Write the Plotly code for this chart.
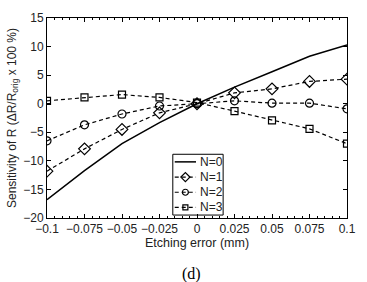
import plotly.graph_objects as go

x_err = [-0.1, -0.075, -0.05, -0.025, 0, 0.025, 0.05, 0.075, 0.1]
n0 = [-16.8, -11.7, -7.0, -3.3, 0.0, 2.9, 5.6, 8.3, 10.3]
n1 = [-11.8, -7.9, -4.5, -1.6, 0.0, 1.9, 2.6, 3.9, 4.3]
n2 = [-6.5, -3.7, -1.8, -0.4, 0.0, 0.5, 0.1, 0.1, -0.9]
n3 = [0.5, 1.1, 1.6, 1.1, 0.2, -1.3, -2.9, -4.4, -7.0]
names = ["N=0", "N=1", "N=2", "N=3"]

xtick_vals = [-0.1, -0.075, -0.05, -0.025, 0, 0.025, 0.05, 0.075, 0.1]
xtick_text = ["\u22120.1", "\u22120.075", "\u22120.05", "\u22120.025", "0", "0.025", "0.05", "0.075", "0.1"]
ytick_vals = [-20, -15, -10, -5, 0, 5, 10, 15]
ytick_text = ["\u221220", "\u221215", "\u221210", "\u22125", "0", "5", "10", "15"]

font = "Liberation Sans, Arial, sans-serif"
DASH = "4px,3px"
styles = [
    dict(mode="lines", line=dict(color="black", width=1.5), marker=None),
    dict(mode="lines+markers", line=dict(color="black", width=1.2, dash=DASH),
         marker=dict(symbol="diamond-open", size=9, color="black", line=dict(width=1.2))),
    dict(mode="lines+markers", line=dict(color="black", width=1.2, dash=DASH),
         marker=dict(symbol="circle-open", size=8, color="black", line=dict(width=1.2))),
    dict(mode="lines+markers", line=dict(color="black", width=1.2, dash=DASH),
         marker=dict(symbol="square-open", size=7, color="black", line=dict(width=1.2))),
]
series = [n0, n1, n2, n3]

fig = go.Figure()
for nm, ys, st in zip(names, series, styles):
    kw = dict(x=x_err, y=ys, mode=st["mode"], name=nm, line=st["line"], showlegend=False)
    if st["marker"] is not None:
        kw["marker"] = st["marker"]
    fig.add_trace(go.Scatter(**kw))

# custom compact legend (drawn on an overlay axis in pixel units of the plot area)
L_left, L_right, L_top, L_bot = 176, 228, 153, 215
row_h = (L_bot - L_top) / len(names)
annos = []
for i, (nm, st) in enumerate(zip(names, styles)):
    yc = L_top + row_h * (i + 0.5)
    fig.add_trace(go.Scatter(x=[178, 200], y=[yc, yc], mode="lines", line=st["line"],
                             xaxis="x2", yaxis="y2", showlegend=False, hoverinfo="skip"))
    if st["marker"] is not None:
        m = dict(st["marker"])
        m["size"] = m["size"] - 2
        fig.add_trace(go.Scatter(x=[189], y=[yc], mode="markers", marker=m,
                                 xaxis="x2", yaxis="y2", showlegend=False, hoverinfo="skip"))
    annos.append(dict(text=nm, x=202, y=yc, xref="x2", yref="y2", xanchor="left", yanchor="middle",
                      showarrow=False, font=dict(size=12, family=font, color="#222")))

annos.append(dict(text="(d)", x=0.48, y=-0.279, xref="paper", yref="paper", yanchor="middle",
                  showarrow=False, font=dict(family="Liberation Serif, Times New Roman, serif", size=16, color="black")))

fig.update_layout(
    width=367, height=282,
    margin=dict(l=46, r=11, t=14, b=64),
    paper_bgcolor="white", plot_bgcolor="white",
    font=dict(family=font, size=12, color="#222"),
    showlegend=False,
    xaxis=dict(range=[-0.1, 0.1], tickvals=xtick_vals, ticktext=xtick_text,
               showline=True, linecolor="black", linewidth=1, mirror="ticks",
               ticks="inside", ticklen=4, tickcolor="black", showgrid=False, zeroline=False,
               minor=dict(dtick=0.005, ticks="inside", ticklen=2, tickcolor="black", showgrid=False),
               title=dict(text="Etching error (mm)", font=dict(size=12.5), standoff=2),
               tickfont=dict(size=12)),
    yaxis=dict(range=[-20, 15], tickvals=ytick_vals, ticktext=ytick_text,
               showline=True, linecolor="black", linewidth=1, mirror="ticks",
               ticks="inside", ticklen=4, tickcolor="black", showgrid=False, zeroline=False,
               title=dict(text="Sensitivity of R (\u0394R/R<sub>orig</sub> x 100 %)", font=dict(size=12), standoff=4),
               tickfont=dict(size=12)),
    xaxis2=dict(overlaying="x", range=[46, 356], visible=False, fixedrange=True),
    yaxis2=dict(overlaying="y", range=[218, 14], visible=False, fixedrange=True),
    shapes=[dict(type="rect", xref="x2", yref="y2", x0=L_left, x1=L_right, y0=L_top, y1=L_bot,
                 line=dict(color="black", width=1), fillcolor="white", layer="below")],
    annotations=annos,
)

fig.write_html("out.html")
